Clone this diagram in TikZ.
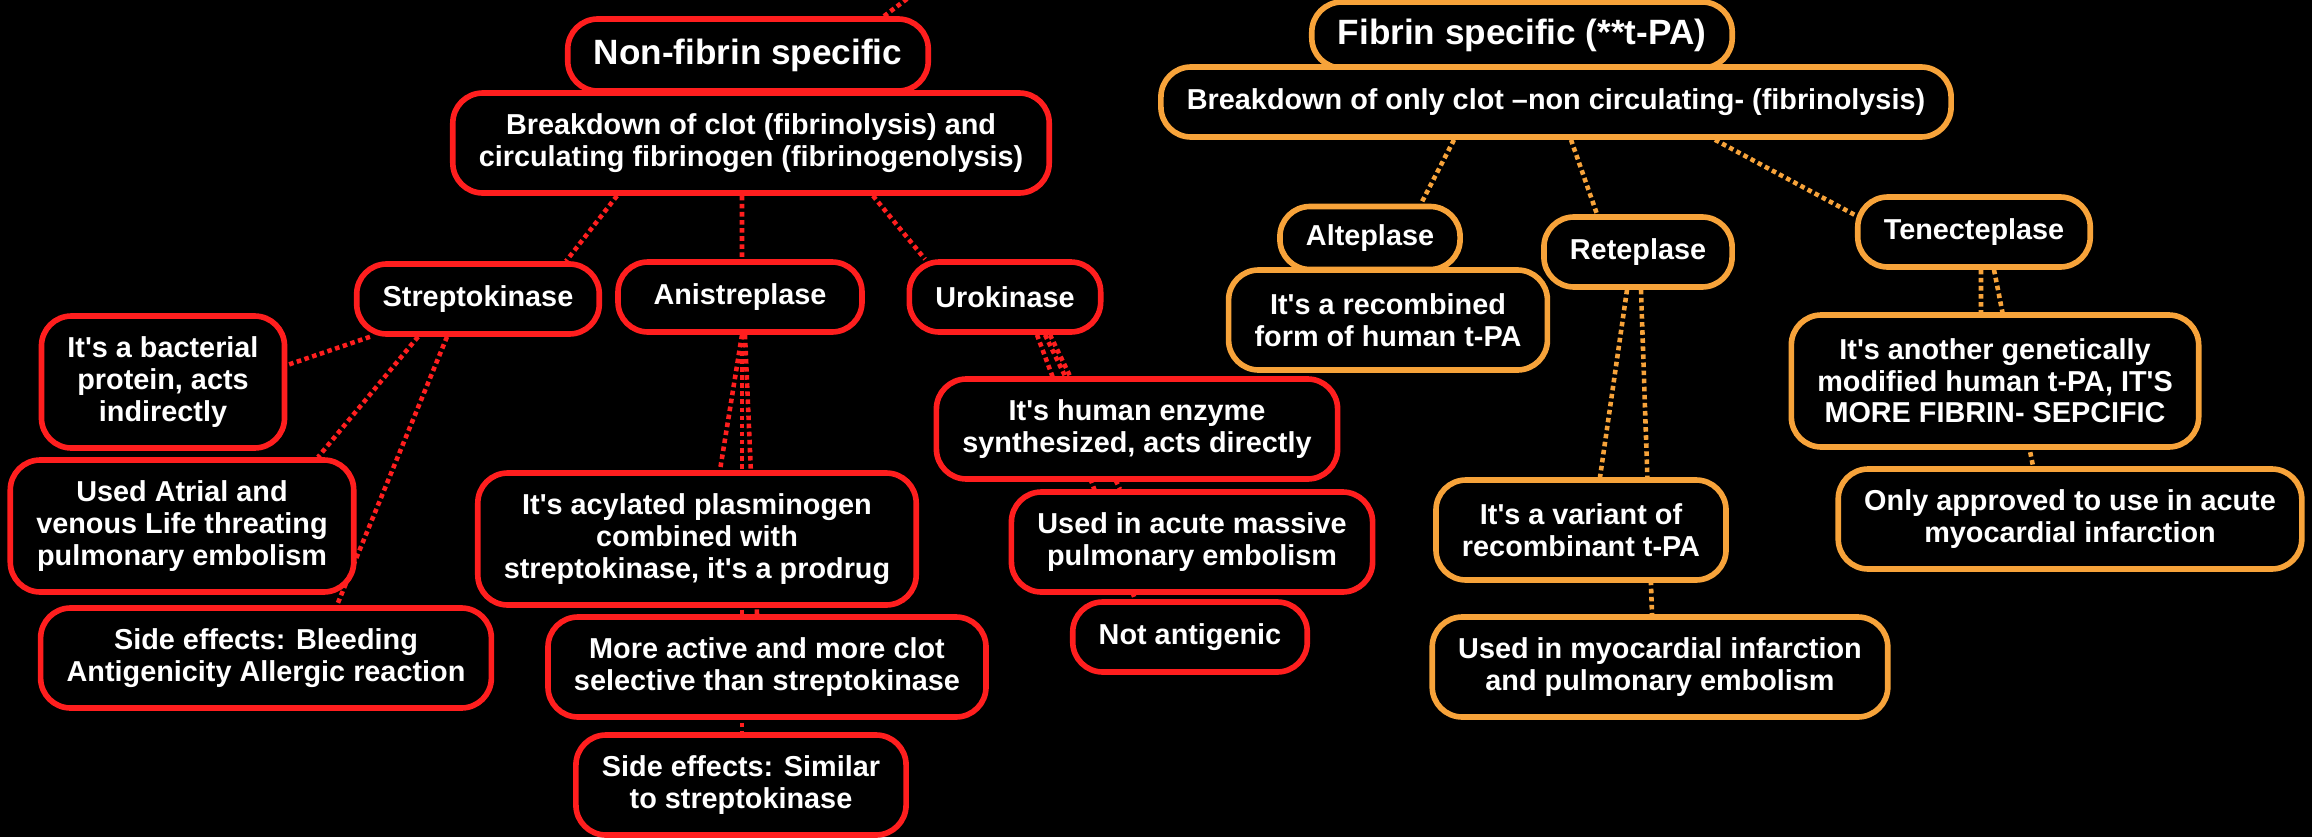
\documentclass[tikz,border=0pt]{standalone}
\usepackage{fontspec}
\setmainfont{Liberation Sans}[Ligatures=TeXOff]
\usetikzlibrary{positioning}
\pgfdeclarelayer{bg}
\pgfsetlayers{bg,main}
\definecolor{mapred}{HTML}{FF1E1E}
\definecolor{mapor}{HTML}{F7A33A}

\begin{document}
\begin{tikzpicture}[
  x=1cm,
  y=1cm,
  redbox/.style={draw=mapred, fill=black, line width=1.6pt, rounded corners=0.3cm, text=white, align=center, inner xsep=0.26cm, inner ysep=0.1cm, font=\fontsize{8.2}{9}\selectfont\bfseries},
  orbox/.style={redbox, draw=mapor},
  title/.style={font=\fontsize{10}{11}\selectfont\bfseries, minimum height=0.72cm},
  oneline/.style={minimum height=0.7cm},
  twoline/.style={minimum height=1.0cm},
  threeline/.style={minimum height=1.32cm},
  redlink/.style={draw=mapred, line width=1.3pt, dash pattern=on 1.3pt off 1pt},
  orlink/.style={redlink, draw=mapor}
]
  \useasboundingbox (0,0) rectangle (23.12,-8.37);

  % non-fibrin specific branch
  \node[redbox, title] (nonfib) at (7.48,-0.55) {Non-fibrin specific};
  \node[redbox, twoline] (brk1) at (7.51,-1.43) {Breakdown of clot (fibrinolysis) and\\circulating fibrinogen (fibrinogenolysis)};
  \node[redbox, oneline] (strepto) at (4.78,-2.99) {Streptokinase};
  \node[redbox, oneline, minimum width=2.44cm] (anist) at (7.40,-2.97) {Anistreplase};
  \node[redbox, oneline] (uro) at (10.05,-2.97) {Urokinase};
  \node[redbox, threeline] (bact) at (1.63,-3.82) {It's a bacterial\\protein, acts\\indirectly};
  \node[redbox, threeline] (atrial) at (1.82,-5.26) {Used Atrial and\\venous Life threating\\pulmonary embolism};
  \node[redbox, twoline] (sidebleed) at (2.66,-6.58) {Side effects: Bleeding\\Antigenicity Allergic reaction};
  \node[redbox, threeline] (acyl) at (6.97,-5.39) {It's acylated plasminogen\\combined with\\streptokinase, it's a prodrug};
  \node[redbox, twoline] (moreact) at (7.67,-6.67) {More active and more clot\\selective than streptokinase};
  \node[redbox, twoline] (sidesim) at (7.41,-7.85) {Side effects: Similar\\to streptokinase};
  \node[redbox, twoline] (enzyme) at (11.37,-4.29) {It's human enzyme\\synthesized, acts directly};
  \node[redbox, twoline] (massive) at (11.92,-5.42) {Used in acute massive\\pulmonary embolism};
  \node[redbox, oneline] (notanti) at (11.90,-6.37) {Not antigenic};

  % fibrin specific branch
  \node[orbox, title, minimum height=0.66cm] (fibrin) at (15.22,-0.35) {Fibrin specific (**t-PA)};
  \node[orbox, oneline] (brk2) at (15.56,-1.02) {Breakdown of only clot –non circulating- (fibrinolysis)};
  \node[orbox, oneline, minimum height=0.63cm] (alte) at (13.70,-2.38) {Alteplase};
  \node[orbox, twoline] (recomb) at (13.88,-3.20) {It's a recombined\\form of human t-PA};
  \node[orbox, oneline] (rete) at (16.38,-2.52) {Reteplase};
  \node[orbox, oneline] (tenec) at (19.74,-2.32) {Tenecteplase};
  \node[orbox, threeline] (another) at (19.95,-3.81) {It's another genetically\\modified human t-PA, IT'S\\MORE FIBRIN- SEPCIFIC};
  \node[orbox, twoline] (onlyapp) at (20.70,-5.19) {Only approved to use in acute\\myocardial infarction};
  \node[orbox, twoline] (variant) at (15.81,-5.30) {It's a variant of\\recombinant t-PA};
  \node[orbox, twoline] (usedmi) at (16.60,-6.67) {Used in myocardial infarction\\and pulmonary embolism};

  \coordinate (upend) at (9.28,0.17);

  \begin{pgfonlayer}{bg}
    \fill[black] (0,0) rectangle (23.12,-8.37);
    \draw[redlink] ([xshift=1.36cm]nonfib.north) -- (upend);
    \draw[redlink] ([xshift=-1.34cm]brk1.south) -- ([xshift=0.88cm]strepto.north);
    \draw[redlink] ([xshift=-0.09cm]brk1.south) -- ([xshift=0.02cm]anist.north);
    \draw[redlink] ([xshift=1.22cm]brk1.south) -- ([xshift=-0.80cm]uro.north);
    \draw[redlink] ([xshift=-1.08cm]strepto.south) -- ([yshift=0.17cm]bact.east);
    \draw[redlink] ([xshift=-0.60cm]strepto.south) -- ([xshift=1.36cm]atrial.north);
    \draw[redlink] ([xshift=-0.31cm]strepto.south) -- ([xshift=0.71cm]sidebleed.north);
    \draw[redlink] ([xshift=0.02cm]anist.south) -- ([xshift=0.23cm]acyl.north);
    \draw[redlink] ([xshift=0.05cm]anist.south) -- ([xshift=-0.10cm]moreact.north);
    \draw[redlink] ([xshift=0.02cm]anist.south) -- ([xshift=0.01cm]sidesim.north);
    \draw[redlink] ([xshift=0.45cm]uro.south) -- ([xshift=-0.67cm]enzyme.north);
    \draw[redlink] ([xshift=0.40cm]uro.south) -- ([xshift=-0.72cm]massive.north);
    \draw[redlink] ([xshift=0.32cm]uro.south) -- ([xshift=-0.55cm]notanti.north);
    \draw[orlink] ([xshift=-1.02cm]brk2.south) -- ([xshift=0.51cm]alte.north);
    \draw[orlink] ([xshift=0.15cm]brk2.south) -- ([xshift=-0.41cm]rete.north);
    \draw[orlink] ([xshift=1.59cm]brk2.south) -- ([yshift=0.17cm]tenec.west);
    \draw[orlink] ([xshift=-0.11cm]rete.south) -- ([xshift=0.19cm]variant.north);
    \draw[orlink] ([xshift=0.03cm]rete.south) -- ([xshift=-0.08cm]usedmi.north);
    \draw[orlink] ([xshift=0.07cm]tenec.south) -- ([xshift=-0.14cm]another.north);
    \draw[orlink] ([xshift=0.20cm]tenec.south) -- ([xshift=-0.37cm]onlyapp.north);
  \end{pgfonlayer}
\end{tikzpicture}
\end{document}
